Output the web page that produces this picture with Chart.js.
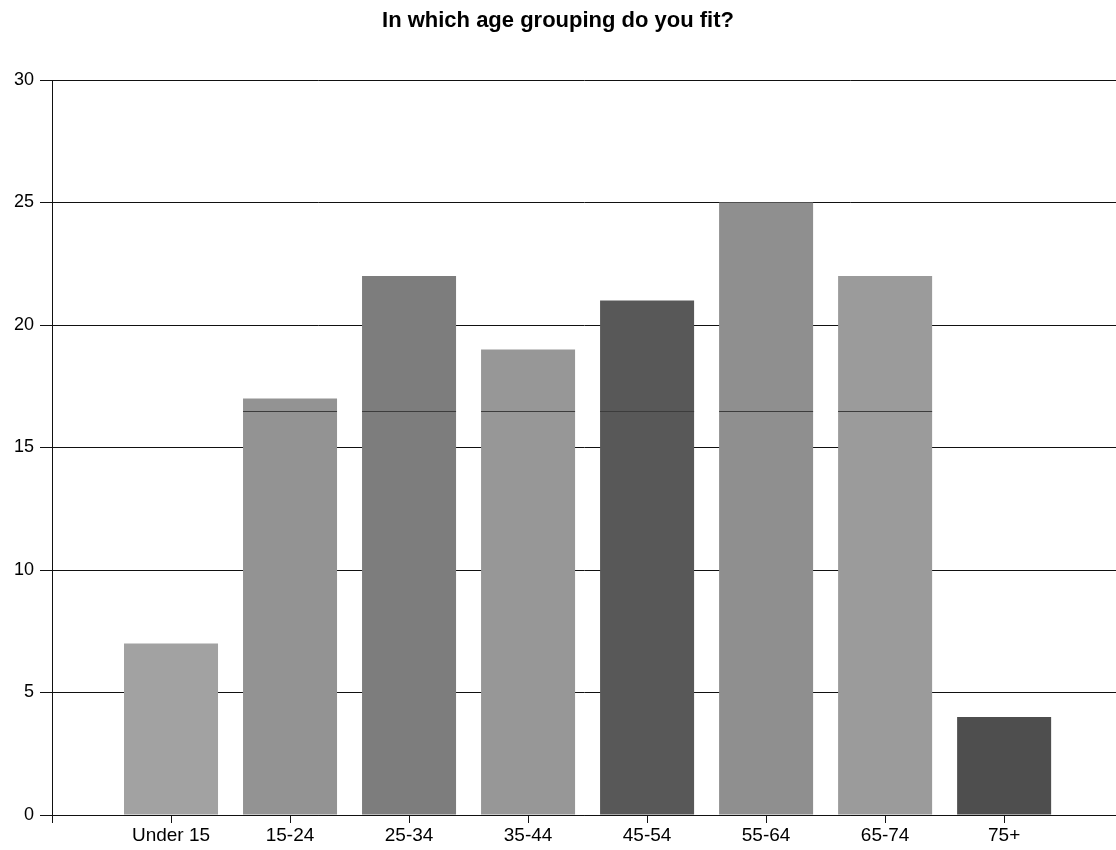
<!DOCTYPE html>
<html>
<head>
<meta charset="utf-8">
<title>In which age grouping do you fit?</title>
<script src="https://cdn.jsdelivr.net/npm/chart.js@4/dist/chart.umd.min.js"></script>
<style>
  html, body { margin: 0; padding: 0; background: #ffffff; }
  #wrap { width: 1116px; height: 850px; position: relative; }
</style>
</head>
<body>
<div id="wrap"><canvas id="chart" width="1116" height="850"></canvas></div>
<script>
// Survey responses per age group
const ageGroups = ['Under 15', '15-24', '25-34', '35-44', '45-54', '55-64', '65-74', '75+'];
const responses = [7, 17, 22, 19, 21, 25, 22, 4];
const barColors = ['#a2a2a2', '#939393', '#7d7d7d', '#979797', '#585858', '#8f8f8f', '#9b9b9b', '#4e4e4e'];
const yTicks = [0, 5, 10, 15, 20, 25, 30];

// Thin seam drawn across the taller bars
const seamValue = 16.5;

const points = responses.map((v, i) => ({ x: i + 1, y: v }));

const seamPlugin = {
  id: 'barSeam',
  afterDatasetsDraw(chart) {
    const ctx = chart.ctx;
    const yScale = chart.scales.y;
    const meta = chart.getDatasetMeta(0);
    const py = Math.round(yScale.getPixelForValue(seamValue)) + 0.5;
    ctx.save();
    ctx.strokeStyle = '#3c3c3c';
    ctx.lineWidth = 1;
    meta.data.forEach((bar, i) => {
      if (responses[i] > seamValue) {
        const half = bar.width / 2;
        ctx.beginPath();
        ctx.moveTo(bar.x - half, py);
        ctx.lineTo(bar.x + half, py);
        ctx.stroke();
      }
    });
    ctx.restore();
  }
};

new Chart(document.getElementById('chart'), {
  type: 'bar',
  data: {
    datasets: [{
      data: points,
      backgroundColor: barColors,
      borderWidth: 0,
      barPercentage: 0.79,
      categoryPercentage: 1.0
    }]
  },
  options: {
    responsive: false,
    animation: false,
    events: [],
    layout: { padding: { top: 0, right: 0, bottom: 0, left: 0 } },
    plugins: {
      legend: { display: false },
      tooltip: { enabled: false },
      title: {
        display: true,
        text: 'In which age grouping do you fit?',
        color: '#000000',
        font: { family: 'Liberation Sans', size: 22, weight: 'bold' },
        padding: { top: 8, bottom: 45.6 }
      }
    },
    scales: {
      x: {
        type: 'linear',
        min: 0,
        max: 8.94,
        offset: false,
        afterBuildTicks(axis) {
          // tick at 0 gives the short stub under the y axis
          axis.ticks = [{ value: 0 }].concat(ageGroups.map((_, i) => ({ value: i + 1 })));
        },
        afterFit(axis) { axis.height = 35; },
        ticks: {
          autoSkip: false,
          maxRotation: 0,
          color: '#000000',
          padding: 1,
          font: { family: 'Liberation Sans', size: 19 },
          callback: (value) => ageGroups[value - 1] ?? ''
        },
        grid: {
          offset: false,
          drawOnChartArea: false,
          drawTicks: true,
          tickLength: 8,
          color: '#111111',
          lineWidth: 1
        },
        border: { display: true, color: '#111111', width: 1 }
      },
      y: {
        min: 0,
        max: 30,
        afterBuildTicks(axis) {
          axis.ticks = yTicks.map(v => ({ value: v }));
        },
        afterFit(axis) { axis.width = 52; },
        ticks: {
          color: '#000000',
          padding: 6,
          font: { family: 'Liberation Sans', size: 18 }
        },
        grid: {
          color: '#111111',
          lineWidth: 1,
          drawTicks: true,
          tickLength: 12
        },
        border: { display: true, color: '#111111', width: 1 }
      }
    }
  },
  plugins: [seamPlugin]
});
</script>
</body>
</html>
